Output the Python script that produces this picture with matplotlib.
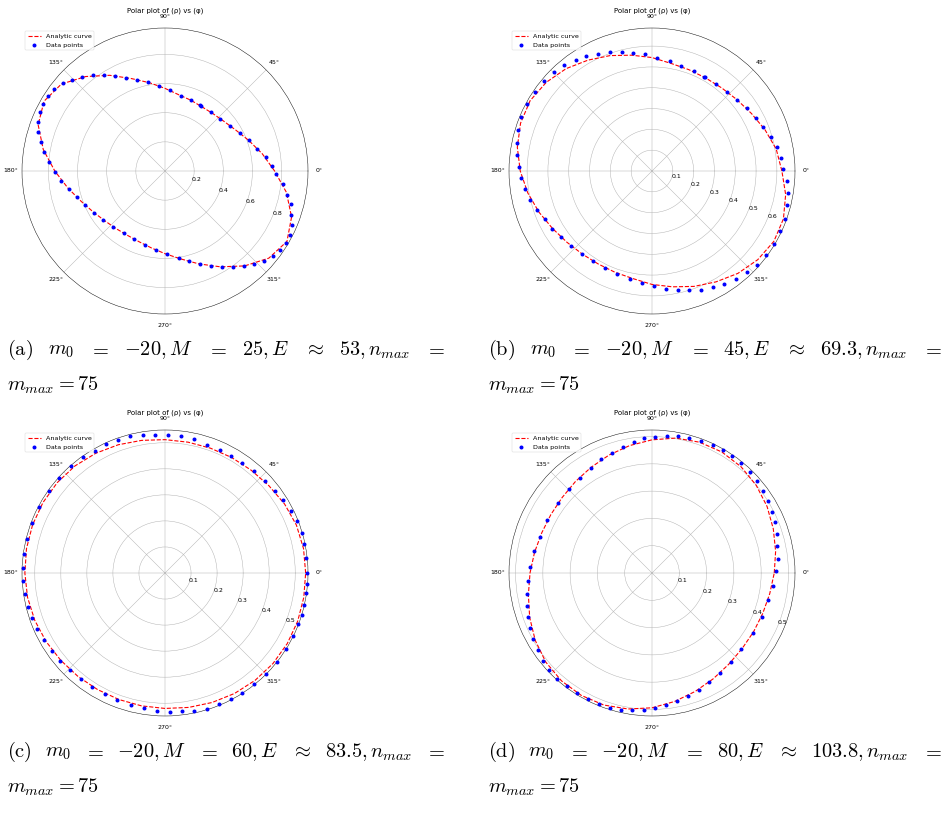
import numpy as np
import matplotlib as mpl
mpl.use('Agg')
from matplotlib import pyplot as plt

plt.rcParams['mathtext.fontset'] = 'cm'

W, H = 947, 833

# data points (angle in degrees, rho)
phi_a = [2.9, 7.8, 13.5, 20.0, 26.9, 34.3, 43.4, 51.9, 60.8, 61.8, 69.7, 78.2, 86.4, 94.3, 101.1,
         107.3, 112.9, 117.8, 122.5, 127.0, 131.4, 135.7, 139.4, 143.6, 147.3, 151.3, 154.9, 158.9,
         162.8, 167.0, 171.2, 175.7, 180.3, 185.3, 190.4, 196.3, 203.0, 210.3, 218.2, 227.3, 236.4,
         245.6, 255.0, 263.4, 271.6, 279.0, 284.9, 290.7, 295.9, 300.9, 305.3, 309.6, 313.8, 317.7,
         321.8, 325.6, 329.4, 333.0, 336.9, 340.7, 345.1, 349.1, 353.5, 358.3]
rho_a = [0.737, 0.696, 0.650, 0.612, 0.575, 0.543, 0.522, 0.511, 0.508, 0.511, 0.517, 0.528, 0.555,
         0.583, 0.621, 0.657, 0.696, 0.738, 0.783, 0.821, 0.858, 0.892, 0.923, 0.949, 0.957, 0.957,
         0.949, 0.932, 0.910, 0.875, 0.837, 0.800, 0.754, 0.716, 0.673, 0.632, 0.594, 0.565, 0.539,
         0.522, 0.511, 0.512, 0.524, 0.544, 0.573, 0.605, 0.642, 0.683, 0.726, 0.766, 0.808, 0.847,
         0.886, 0.916, 0.941, 0.956, 0.967, 0.962, 0.950, 0.918, 0.892, 0.854, 0.817, 0.761]

phi_b = [1.0, 5.6, 10.9, 16.2, 21.5, 27.1, 33.4, 40.0, 46.5, 53.6, 60.6, 61.2, 67.2, 74.5, 80.8,
         87.5, 93.4, 99.0, 104.3, 109.7, 114.9, 119.8, 124.6, 129.6, 134.8, 140.1, 145.9, 151.7,
         157.5, 162.9, 168.1, 173.1, 178.1, 183.1, 188.1, 193.4, 198.8, 204.3, 210.1, 216.0, 222.9,
         229.8, 236.9, 244.1, 251.2, 258.3, 265.1, 270.8, 276.8, 282.4, 287.4, 292.6, 297.6, 302.6,
         307.8, 313.0, 318.2, 323.5, 329.2, 334.9, 340.3, 345.9, 350.9, 355.7]
rho_b = [0.629, 0.624, 0.610, 0.593, 0.574, 0.561, 0.546, 0.534, 0.525, 0.519, 0.516, 0.517, 0.519,
         0.523, 0.533, 0.545, 0.563, 0.574, 0.590, 0.605, 0.621, 0.636, 0.647, 0.660, 0.667, 0.676,
         0.678, 0.680, 0.679, 0.672, 0.664, 0.655, 0.641, 0.630, 0.614, 0.601, 0.583, 0.565, 0.553,
         0.541, 0.528, 0.519, 0.515, 0.518, 0.524, 0.530, 0.541, 0.554, 0.569, 0.585, 0.601, 0.617,
         0.630, 0.646, 0.658, 0.666, 0.674, 0.679, 0.682, 0.681, 0.677, 0.670, 0.662, 0.649]

phi_c = [88.6, 94.2, 99.0, 104.2, 109.4, 114.4, 119.9, 125.4, 131.2, 138.0, 144.7, 152.2, 159.3,
         166.1, 172.2, 178.0, 183.1, 188.6, 193.8, 198.7, 203.7, 209.0, 214.5, 220.0, 225.8, 231.5,
         237.5, 243.6, 249.5, 255.5, 261.1, 266.5, 272.1, 276.9, 282.1, 287.2, 292.5, 297.6, 302.7,
         308.7, 315.0, 321.5, 327.8, 333.7, 338.9, 343.0, 347.2, 351.9, 355.6, 0.0, 6.1, 11.6, 16.4,
         21.5, 26.3, 31.6, 36.8, 42.6, 48.8, 55.0, 60.6, 65.8, 71.7, 77.7, 83.3]
rho_c = [0.530, 0.533, 0.537, 0.542, 0.543, 0.544, 0.542, 0.545, 0.547, 0.546, 0.544, 0.546, 0.547,
         0.546, 0.547, 0.545, 0.545, 0.545, 0.543, 0.541, 0.537, 0.533, 0.528, 0.524, 0.522, 0.521,
         0.520, 0.520, 0.521, 0.523, 0.526, 0.531, 0.533, 0.533, 0.540, 0.546, 0.546, 0.547, 0.548,
         0.546, 0.546, 0.548, 0.548, 0.548, 0.548, 0.548, 0.548, 0.548, 0.548, 0.547, 0.546, 0.545,
         0.547, 0.544, 0.538, 0.533, 0.526, 0.519, 0.518, 0.516, 0.517, 0.518, 0.519, 0.526, 0.529]

phi_d = [93.6, 88.6, 83.7, 79.2, 74.5, 69.6, 64.7, 60.0, 55.6, 50.9, 46.1, 41.3, 36.5, 31.8, 26.9,
         22.4, 17.4, 12.0, 6.5, 0.8, 354.0, 346.7, 338.3, 329.3, 319.5, 311.6, 304.1, 297.5, 291.9,
         286.2, 281.1, 276.2, 271.1, 266.5, 261.9, 257.3, 252.8, 248.1, 243.1, 237.9, 233.0, 228.1,
         223.4, 218.8, 214.1, 209.2, 204.3, 199.6, 194.7, 189.4, 183.9, 177.2, 169.5, 162.3, 153.3,
         143.6, 134.8, 127.0, 120.2, 114.1, 108.5, 103.1, 98.0]
rho_d = [0.494, 0.500, 0.505, 0.510, 0.513, 0.517, 0.520, 0.520, 0.519, 0.519, 0.516, 0.511, 0.507,
         0.501, 0.495, 0.487, 0.480, 0.470, 0.463, 0.456, 0.444, 0.438, 0.432, 0.432, 0.431, 0.435,
         0.444, 0.452, 0.461, 0.471, 0.479, 0.487, 0.495, 0.504, 0.508, 0.513, 0.518, 0.517, 0.517,
         0.519, 0.520, 0.520, 0.518, 0.513, 0.505, 0.499, 0.492, 0.483, 0.474, 0.465, 0.455, 0.447,
         0.439, 0.432, 0.429, 0.430, 0.432, 0.438, 0.447, 0.457, 0.464, 0.475, 0.483]

# analytic curves, read every 10 degrees
curve_deg = list(range(0, 360, 10))
curve_a = [0.752, 0.678, 0.612, 0.561, 0.529, 0.513, 0.508, 0.517, 0.532, 0.567, 0.615, 0.675,
           0.758, 0.846, 0.928, 0.958, 0.926, 0.848, 0.756, 0.676, 0.611, 0.566, 0.535, 0.518,
           0.511, 0.517, 0.536, 0.567, 0.612, 0.678, 0.759, 0.850, 0.930, 0.966, 0.924, 0.846]
curve_b = [0.624, 0.606, 0.578, 0.552, 0.533, 0.521, 0.516, 0.518, 0.525, 0.545, 0.565, 0.590,
           0.615, 0.642, 0.663, 0.676, 0.672, 0.657, 0.633, 0.606, 0.578, 0.552, 0.533, 0.521,
           0.516, 0.518, 0.525, 0.545, 0.565, 0.590, 0.615, 0.642, 0.663, 0.676, 0.672, 0.652]
curve_c = [0.540, 0.540, 0.537, 0.530, 0.521, 0.515, 0.512, 0.510, 0.510, 0.512, 0.517, 0.524,
           0.531, 0.537, 0.540, 0.541, 0.541, 0.540, 0.538, 0.536, 0.532, 0.527, 0.522, 0.519,
           0.517, 0.517, 0.518, 0.520, 0.524, 0.529, 0.534, 0.538, 0.541, 0.542, 0.542, 0.541]
curve_d = [0.448, 0.460, 0.473, 0.487, 0.499, 0.508, 0.512, 0.510, 0.502, 0.488, 0.474, 0.460,
           0.447, 0.437, 0.430, 0.428, 0.430, 0.437, 0.447, 0.460, 0.477, 0.494, 0.508, 0.516,
           0.518, 0.515, 0.506, 0.494, 0.478, 0.462, 0.448, 0.437, 0.431, 0.430, 0.432, 0.438]

rmax = [0.981, 0.687, 0.549, 0.524]

captions = [
    [r'$\mathrm{(a)}$', r'$m_0$', r'$=$', r'$-20,M$', r'$=$', r'$25,E$', r'$\approx$', r'$53,n_{max}$', r'$=$'],
    [r'$\mathrm{(b)}$', r'$m_0$', r'$=$', r'$-20,M$', r'$=$', r'$45,E$', r'$\approx$', r'$69.3,n_{max}$', r'$=$'],
    [r'$\mathrm{(c)}$', r'$m_0$', r'$=$', r'$-20,M$', r'$=$', r'$60,E$', r'$\approx$', r'$83.5,n_{max}$', r'$=$'],
    [r'$\mathrm{(d)}$', r'$m_0$', r'$=$', r'$-20,M$', r'$=$', r'$80,E$', r'$\approx$', r'$103.8,n_{max}$', r'$=$'],
]

panels = [(phi_a, rho_a, curve_a), (phi_b, rho_b, curve_b),
          (phi_c, rho_c, curve_c), (phi_d, rho_d, curve_d)]
# centre of each polar plot in pixels, radius 143 px
centres = [(165, 171), (652, 171), (165, 573), (652, 573)]
R = 143
k = 0.42  # the panels are shrunk default-style matplotlib figures

fig = plt.figure(figsize=(W / 100, H / 100), dpi=100)

for i, (phi, rho, curve) in enumerate(panels):
    cx, cy = centres[i]
    ax = fig.add_axes([(cx - R) / W, 1 - (cy + R) / H, 2 * R / W, 2 * R / H], projection='polar')
    th = np.radians(curve_deg + [360])
    ax.plot(th, curve + [curve[0]], 'r--', lw=0.8, label='Analytic curve')
    ax.scatter(np.radians(phi), rho, s=3.5, color='blue', label='Data points', zorder=3, clip_on=False)
    ax.set_ylim(0, rmax[i])
    ax.set_rlabel_position(-22.5)
    ax.set_title('Polar plot of (ρ) vs (φ)', fontsize=5.0, pad=1.5)
    ax.tick_params(labelsize=4.5, pad=0.5, length=0.5, width=0.3)
    ax.grid(True, lw=0.8 * k)
    ax.spines['polar'].set_linewidth(0.8 * k)
    leg = ax.legend(loc='upper left', fontsize=4.6, scatterpoints=1)
    leg.get_frame().set_linewidth(0.8 * k)

renderer = fig.canvas.get_renderer()
cap_size = 14.7


def caption(tokens, x0, x1, y1, y2):
    texts = [fig.text(0, 1 - y1 / H, t, fontsize=cap_size, va='baseline') for t in tokens]
    widths = [t.get_window_extent(renderer).width for t in texts]
    gap = (x1 - x0 - sum(widths)) / (len(texts) - 1)
    x = x0
    for t, w in zip(texts, widths):
        t.set_x(x / W)
        x += w + gap
    fig.text(x0 / W, 1 - y2 / H, r'$m_{max} = 75$', fontsize=cap_size, va='baseline')


caption(captions[0], 7, 445, 355, 391)
caption(captions[1], 488, 942, 355, 391)
caption(captions[2], 7, 445, 757, 793)
caption(captions[3], 488, 942, 757, 793)

fig.savefig('out.png', dpi=100)
